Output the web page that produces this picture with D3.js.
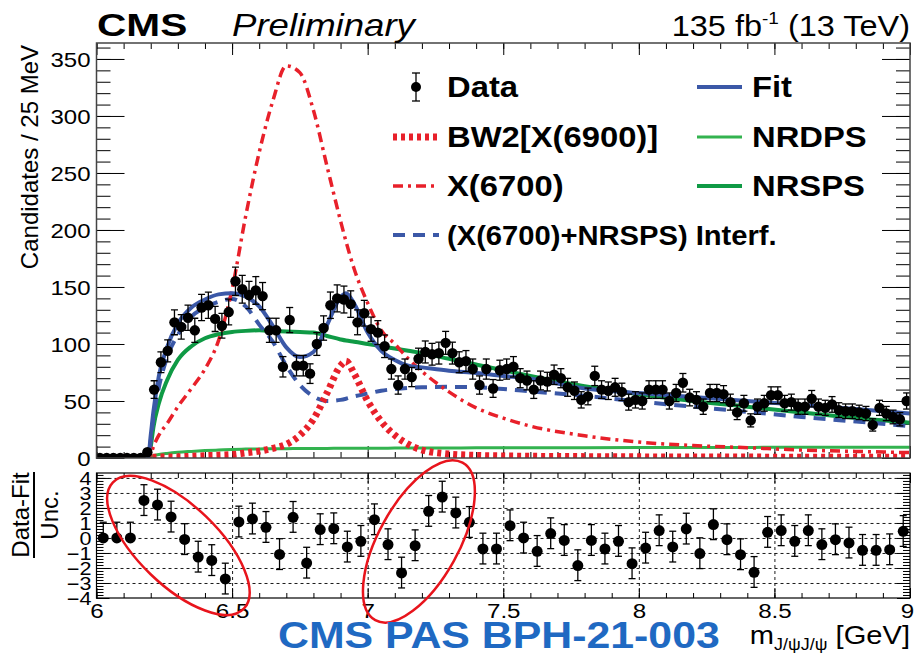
<!DOCTYPE html>
<html>
<head>
<meta charset="utf-8">
<script src="https://cdn.jsdelivr.net/npm/d3@7"></script>
<style>
  body { margin: 0; background: #fff; }
  svg { display: block; }
</style>
</head>
<body>
<script>
// candidates per 25 MeV bin, 6.0 -> 9.0 GeV (120 bins)
var counts = [
  0, 0, 0, 0, 0, 0, 0, 5, 60, 84,
  94, 119, 115, 123, 112, 132, 134, 122, 116, 128,
  155, 148, 143, 147, 142, 112, 112, 80, 121, 81,
  81, 74, 100, 114, 134, 140, 139, 135, 119, 127,
  113, 110, 98, 78, 64, 78, 71, 87, 93, 91,
  92, 101, 92, 84, 85, 78, 64, 78, 61, 77,
  78, 80, 70, 68, 60, 68, 67, 73, 70, 62,
  59, 51, 54, 72, 60, 59, 62, 58, 49, 51,
  50, 60, 60, 60, 50, 57, 66, 53, 51, 45,
  57, 57, 56, 49, 40, 48, 33, 45, 48, 55,
  55, 48, 49, 45, 45, 52, 45, 44, 47, 42,
  41, 41, 40, 39, 29, 44, 39, 36, 34, 50
];

// (data-fit)/unc. per 50 MeV bin (60 bins)
var pulls = [
  0, 0, 0, 2.5, 2.2, 1.4, -0.1, -1.27, -1.5, -2.73,
  1.07, 1.27, 0.71, -1.1, 1.38, -1.67, 0.56, 0.62, -0.6, -0.22,
  1.22, -0.44, -2.33, -0.51, 1.78, 2.73, 1.67, 1.04, -0.73, -0.73,
  0.82, 0, -0.89, 0.29, -0.16, -1.84, -0.16, -0.73, -0.22, -1.71,
  -0.67, 0.49, -0.6, 0.6, -1.04, 0.89, -0.11, -1.11, -2.29, 0.38,
  0.49, -0.22, 0.49, -0.44, -0.11, -0.33, -0.82, -0.82, -0.78, 0.44
];
var emptyPullBins = 3; // below threshold: only an upper error

// fit components, sampled at these masses
var curveMass = [6.0, 6.19, 6.2, 6.21, 6.23, 6.26, 6.3, 6.35, 6.4, 6.45, 6.5, 6.55, 6.6, 6.65, 6.7, 6.75,
  6.8, 6.85, 6.9, 6.92, 6.95, 7.0, 7.05, 7.1, 7.15, 7.2, 7.3, 7.4, 7.5, 7.6, 7.8, 8.0, 8.2, 8.4, 8.6, 8.8, 9.0];
var fitCurve = [0, 0, 20, 41, 72, 97, 118, 132, 139, 143.5, 144.5, 141.5, 133, 116, 97, 88.5,
  93, 116.5, 141, 144.5, 135.5, 110, 94, 86, 81, 79.5, 76.5, 74.5, 72, 69.5, 61, 57, 53.5, 50, 46.5, 43, 39];
var nrspsCurve = [0, 0, 10, 27, 48, 68, 86, 98, 105, 108.5, 110.5, 111.5, 112, 111.5, 111, 110.5,
  110, 107, 104, 103, 102, 100, 98, 96, 94, 92, 87, 82, 77, 72, 63, 56, 50, 45, 40, 35, 31];
var nrdpsCurve = [0, 0, 1, 2, 3, 4, 5, 5.8, 6.5, 7, 7.5, 7.8, 8, 8.1, 8.2, 8.3,
  8.4, 8.4, 8.5, 8.5, 8.5, 8.6, 8.6, 8.7, 8.7, 8.8, 8.8, 8.9, 9, 9, 9.1, 9.2, 9.3, 9.3, 9.4, 9.4, 9.5];
var bw2Curve = [0.3, 0.5, 0.6, 0.7, 0.8, 0.9, 1, 1.5, 2, 2.5, 3, 4.5, 6, 8.5, 12, 20,
  34, 57, 81, 85, 74, 50, 32, 20, 12, 7, 3.5, 2.3, 1.8, 1.5, 1.2, 1, 0.9, 0.8, 0.7, 0.6, 0.6];
var x6700Curve = [0, 0, 3, 10, 20, 30, 45, 61, 78, 103, 148, 212, 268, 313, 344, 338,
  305, 256, 208, 190, 166, 136, 112, 100, 87, 76, 58, 44, 35, 28, 19.5, 14, 11, 9, 7, 5.8, 4.7];
var interfCurve = [0, 0, 15, 35, 62, 88, 108, 124, 132, 137, 139.5, 133, 117, 102, 81, 64,
  54, 50, 51, 52, 54, 56.5, 59, 60.5, 61.5, 62, 62.4, 62, 60.5, 58.5, 54.5, 49.5, 45, 40.5, 36, 32, 28];

var yTicksTop = [0, 50, 100, 150, 200, 250, 300, 350];
var xTicks = [6, 6.5, 7, 7.5, 8, 8.5, 9];
var yTicksPull = [-4, -3, -2, -1, 0, 1, 2, 3, 4];

var width = 923, height = 656;
var frameL = 96.5, frameR = 910;
var topY0 = 43, topY1 = 458;
var pullY0 = 473, pullY1 = 598;
var font = "'Liberation Sans', Arial, Helvetica, sans-serif";
var blue = '#3b58a7', red = '#e8202a', green = '#0f9a45', lightGreen = '#33b34f';

var svg = d3.select('body').append('svg')
  .attr('width', width).attr('height', height)
  .style('font-family', font);

var x = d3.scaleLinear().domain([6, 9]).range([frameL, frameR]);
var y = d3.scaleLinear().domain([0, 364]).range([topY1, topY0]);
var yp = d3.scaleLinear().domain([-4, 4.33]).range([pullY1, pullY0]);

// text helper, the figure's fonts are a bit wider than Liberation
function label(g, px, py, str, size, o) {
  o = o || {};
  return g.append('text')
    .attr('transform', 'translate(' + px + ',' + py + ') scale(' + (o.sx || 1.15) + ',1)')
    .attr('font-size', size)
    .attr('font-weight', o.weight || 'normal')
    .attr('font-style', o.style || 'normal')
    .attr('text-anchor', o.anchor || 'start')
    .attr('fill', o.fill || '#000')
    .text(str);
}

function drawTicks(g, axis, tx, ty) {
  var a = g.append('g').attr('transform', 'translate(' + tx + ',' + ty + ')').call(axis);
  a.select('.domain').remove();
  a.selectAll('.tick line').attr('stroke', '#000').attr('stroke-width', 1);
  return a;
}

function styleLabels(a, size, sx, dx) {
  a.selectAll('.tick text')
    .attr('font-size', size).attr('font-family', font).attr('fill', '#000')
    .attr('x', null)
    .attr('transform', 'translate(' + dx + ',0) scale(' + sx + ',1)');
}

// ---------- top panel ----------
var mainG = svg.append('g');
svg.append('clipPath').attr('id', 'clipTop')
  .append('rect').attr('x', frameL).attr('y', topY0).attr('width', frameR - frameL).attr('height', topY1 - topY0);

var minorY = d3.range(0, 361, 10);
var minorX = d3.range(0, 31).map(function (i) { return 6 + i * 0.1; });

drawTicks(mainG, d3.axisLeft(y).tickValues(minorY).tickSize(-14).tickFormat(''), frameL, 0);
drawTicks(mainG, d3.axisRight(y).tickValues(minorY).tickSize(-14).tickFormat(''), frameR, 0);
drawTicks(mainG, d3.axisRight(y).tickValues(yTicksTop).tickSize(-28).tickFormat(''), frameR, 0);
var yAxTop = drawTicks(mainG, d3.axisLeft(y).tickValues(yTicksTop).tickSize(-28).tickPadding(0), frameL, 0);
styleLabels(yAxTop, 20, 1.2, -6);
yAxTop.selectAll('.tick text').attr('dy', '0.36em');

drawTicks(mainG, d3.axisBottom(x).tickValues(minorX).tickSize(-6).tickFormat(''), 0, topY1);
drawTicks(mainG, d3.axisBottom(x).tickValues(xTicks).tickSize(-12).tickFormat(''), 0, topY1);
drawTicks(mainG, d3.axisTop(x).tickValues(minorX).tickSize(-6).tickFormat(''), 0, topY0);
drawTicks(mainG, d3.axisTop(x).tickValues(xTicks).tickSize(-12).tickFormat(''), 0, topY0);

var plot = mainG.append('g').attr('clip-path', 'url(#clipTop)');

var line = d3.line()
  .x(function (d) { return x(d[0]); })
  .y(function (d) { return y(d[1]); })
  .curve(d3.curveMonotoneX);

function curve(vals, color, w, dash) {
  plot.append('path')
    .datum(curveMass.map(function (m, i) { return [m, vals[i]]; }))
    .attr('d', line)
    .attr('fill', 'none')
    .attr('stroke', color)
    .attr('stroke-width', w)
    .attr('stroke-dasharray', dash || null);
}

curve(nrdpsCurve, lightGreen, 3);
curve(nrspsCurve, green, 4);
curve(interfCurve, blue, 4, '12,8');
curve(x6700Curve, red, 3.5, '10,5,3,5');
curve(bw2Curve, red, 7, '4,4');
curve(fitCurve, blue, 4);

// data points
var binW = 0.025;
var pts = counts.map(function (c, i) { return { m: 6 + (i + 0.5) * binW, n: c }; });
var dataG = plot.append('g');
pts.filter(function (d) { return d.n > 0; }).forEach(function (d) {
  var e = Math.sqrt(d.n);
  var px = x(d.m);
  dataG.append('line').attr('x1', px).attr('x2', px).attr('y1', y(d.n - e)).attr('y2', y(d.n + e))
    .attr('stroke', '#000').attr('stroke-width', 1.3);
  [d.n - e, d.n + e].forEach(function (v) {
    dataG.append('line').attr('x1', px - 3.5).attr('x2', px + 3.5).attr('y1', y(v)).attr('y2', y(v))
      .attr('stroke', '#000').attr('stroke-width', 1.3);
  });
});
dataG.selectAll('circle').data(pts).enter().append('circle')
  .attr('cx', function (d) { return x(d.m); })
  .attr('cy', function (d) { return y(d.n); })
  .attr('r', 5.2)
  .attr('fill', '#000');

mainG.append('rect').attr('x', frameL).attr('y', topY0).attr('width', frameR - frameL).attr('height', topY1 - topY0)
  .attr('fill', 'none').attr('stroke', '#444').attr('stroke-width', 1.5);

// y title
mainG.append('text')
  .attr('transform', 'translate(38,45) rotate(-90)')
  .attr('text-anchor', 'end')
  .attr('font-size', 24)
  .text('Candidates / 25 MeV');

// legend
var legLeft = ['Data', 'BW2[X(6900)]', 'X(6700)', '(X(6700)+NRSPS) Interf.'];
var legRight = ['Fit', 'NRDPS', 'NRSPS'];
var legRows = [87, 137, 186, 235];
var leg = svg.append('g');

leg.append('line').attr('x1', 416).attr('x2', 416).attr('y1', 73).attr('y2', 101).attr('stroke', '#000').attr('stroke-width', 1.3);
leg.append('line').attr('x1', 412).attr('x2', 420).attr('y1', 73).attr('y2', 73).attr('stroke', '#000').attr('stroke-width', 1.3);
leg.append('line').attr('x1', 412).attr('x2', 420).attr('y1', 101).attr('y2', 101).attr('stroke', '#000').attr('stroke-width', 1.3);
leg.append('circle').attr('cx', 416).attr('cy', legRows[0]).attr('r', 5).attr('fill', '#000');

var legLeftStyle = [null, [red, 7, '4,4'], [red, 3.5, '10,5,3,5'], [blue, 4, '12,8']];
var legRightStyle = [[blue, 4], [lightGreen, 3], [green, 4]];
legLeftStyle.forEach(function (s, i) {
  if (!s) return;
  leg.append('line').attr('x1', 393).attr('x2', 439).attr('y1', legRows[i]).attr('y2', legRows[i])
    .attr('stroke', s[0]).attr('stroke-width', s[1]).attr('stroke-dasharray', s[2]);
});
legRightStyle.forEach(function (s, i) {
  leg.append('line').attr('x1', 697).attr('x2', 742).attr('y1', legRows[i]).attr('y2', legRows[i])
    .attr('stroke', s[0]).attr('stroke-width', s[1]);
});
legLeft.forEach(function (t, i) {
  label(leg, 447, legRows[i] + 10, t, i === 3 ? 27 : 29, { weight: 'bold', sx: i === 3 ? 1.08 : 1.13 });
});
legRight.forEach(function (t, i) {
  label(leg, 752, legRows[i] + 10, t, 29, { weight: 'bold', sx: 1.13 });
});

// header
label(svg, 97, 36, 'CMS', 32, { weight: 'bold', sx: 1.27 });
label(svg, 232, 36, 'Preliminary', 31, { style: 'italic', sx: 1.18 });
var lumi = label(svg, 910, 36, '', 29, { anchor: 'end', sx: 1.12 });
lumi.append('tspan').text('135 fb');
lumi.append('tspan').attr('font-size', 17).attr('dy', -12).text('-1');
lumi.append('tspan').attr('dy', 12).text(' (13 TeV)');

// ---------- pull panel ----------
var botG = svg.append('g');
var gridY = drawTicks(botG, d3.axisLeft(yp).tickValues([-3, -2, -1, 0, 1, 2, 3, 4]).tickSize(-(frameR - frameL)).tickFormat(''), frameL, 0);
gridY.selectAll('.tick line').attr('stroke-dasharray', '3,3').attr('stroke-width', 0.9);
var gridX = drawTicks(botG, d3.axisBottom(x).tickValues([6.5, 7, 7.5, 8, 8.5]).tickSize(-(pullY1 - pullY0)).tickFormat(''), 0, pullY1);
gridX.selectAll('.tick line').attr('stroke-dasharray', '3,3').attr('stroke-width', 0.9);

var minorP = d3.range(0, 42).map(function (i) { return -4 + i * 0.2; }).filter(function (v) { return v <= 4.3; });
drawTicks(botG, d3.axisLeft(yp).tickValues(minorP).tickSize(-7).tickFormat(''), frameL, 0);
drawTicks(botG, d3.axisRight(yp).tickValues(minorP).tickSize(-7).tickFormat(''), frameR, 0);
drawTicks(botG, d3.axisRight(yp).tickValues(yTicksPull).tickSize(-13).tickFormat(''), frameR, 0);
var yAxP = drawTicks(botG, d3.axisLeft(yp).tickValues(yTicksPull).tickSize(-13).tickPadding(0)
  .tickFormat(function (d) { return d < 0 ? '\u2212' + (-d) : d; }), frameL, 0);
styleLabels(yAxP, 18, 1.2, -5);
yAxP.selectAll('.tick text').attr('dy', '0.36em');

drawTicks(botG, d3.axisBottom(x).tickValues(minorX).tickSize(-5).tickFormat(''), 0, pullY1);
drawTicks(botG, d3.axisTop(x).tickValues(minorX).tickSize(-5).tickFormat(''), 0, pullY0);
drawTicks(botG, d3.axisTop(x).tickValues(xTicks).tickSize(-10).tickFormat(''), 0, pullY0);
var xAxP = drawTicks(botG, d3.axisBottom(x).tickValues(xTicks).tickSize(-10).tickPadding(0)
  .tickFormat(function (d) { return String(d); }), 0, pullY1);
styleLabels(xAxP, 21, 1.15, 0);
xAxP.selectAll('.tick text').attr('y', 20).attr('dy', null);
xAxP.selectAll('.tick text').filter(function (d) { return d === 9; }).attr('transform', 'translate(-3,0) scale(1.15,1)');

var pullPts = pulls.map(function (p, i) { return { m: 6 + (i + 0.5) * 0.05, v: p, lo: i < emptyPullBins ? 0 : 1 }; });
var pg = botG.append('g');
pullPts.forEach(function (d) {
  var px = x(d.m);
  pg.append('line').attr('x1', px).attr('x2', px).attr('y1', yp(d.v - d.lo)).attr('y2', yp(d.v + 1.05))
    .attr('stroke', '#000').attr('stroke-width', 1.3);
  pg.append('line').attr('x1', px - 3.5).attr('x2', px + 3.5).attr('y1', yp(d.v + 1.05)).attr('y2', yp(d.v + 1.05))
    .attr('stroke', '#000').attr('stroke-width', 1.3);
  if (d.lo > 0) {
    pg.append('line').attr('x1', px - 3.5).attr('x2', px + 3.5).attr('y1', yp(d.v - d.lo)).attr('y2', yp(d.v - d.lo))
      .attr('stroke', '#000').attr('stroke-width', 1.3);
  }
});
pg.selectAll('circle').data(pullPts).enter().append('circle')
  .attr('cx', function (d) { return x(d.m); })
  .attr('cy', function (d) { return yp(d.v); })
  .attr('r', 5.5)
  .attr('fill', '#000');

botG.append('rect').attr('x', frameL).attr('y', pullY0).attr('width', frameR - frameL).attr('height', pullY1 - pullY0)
  .attr('fill', 'none').attr('stroke', '#000').attr('stroke-width', 1.2);

// pull title as a fraction
var pt = botG.append('g').attr('transform', 'translate(0,515) rotate(-90)');
pt.append('text').attr('x', 0).attr('y', 29).attr('text-anchor', 'middle').attr('font-size', 24).text('Data-Fit');
pt.append('line').attr('x1', -43).attr('x2', 43).attr('y1', 34).attr('y2', 34).attr('stroke', '#000').attr('stroke-width', 2);
pt.append('text').attr('x', 0).attr('y', 58).attr('text-anchor', 'middle').attr('font-size', 24).text('Unc.');

// highlighted regions
var ellipses = botG.append('g').attr('fill', 'none').attr('stroke', '#e8141c').attr('stroke-width', 2.5);
ellipses.append('ellipse').attr('rx', 91).attr('ry', 40)
  .attr('transform', 'translate(' + x(6.302) + ',' + yp(-0.5) + ') rotate(44)');
ellipses.append('ellipse').attr('rx', 90).attr('ry', 40)
  .attr('transform', 'translate(' + x(7.189) + ',' + yp(-0.23) + ') rotate(-61)');

// x title and note
var xt = label(svg, 910, 644, '', 26, { anchor: 'end', sx: 1.12 });
xt.append('tspan').text('m');
xt.append('tspan').attr('font-size', 16).attr('dy', 6).text('J/\u03c8J/\u03c8');
xt.append('tspan').attr('dy', -6).text(' [GeV]');

label(svg, 278, 648, 'CMS PAS BPH-21-003', 36, { weight: 'bold', fill: '#1f69c2', sx: 1.19 });
</script>
</body>
</html>
